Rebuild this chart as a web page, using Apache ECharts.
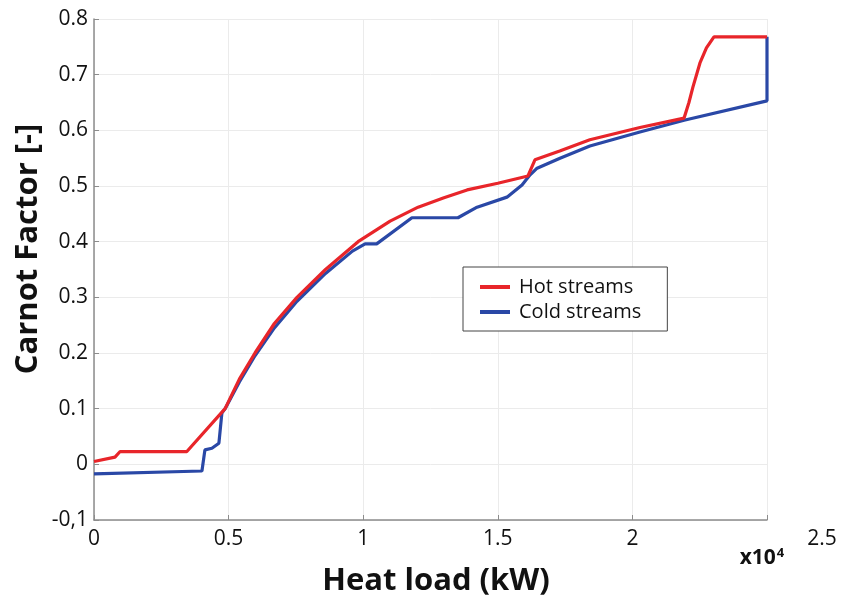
<!DOCTYPE html>
<html>
<head>
<meta charset="utf-8">
<script src="https://cdn.jsdelivr.net/npm/echarts@6/dist/echarts.min.js"></script>
<style>
html,body{margin:0;padding:0;background:#fff;}
#chart{width:843px;height:602px;}
</style>
</head>
<body>
<div id="chart"></div>
<script>
// Heat load in kW, Carnot factor [-]
const hotX = [0, 780, 970, 3450, 4870, 5400, 5980, 6700, 7540, 8600, 9810, 11000, 12040, 13000, 13860, 15000, 16120, 16380, 17300, 18420, 20280, 21920, 22100, 22250, 22510, 22750, 23030, 25000];
const hotY = [0.005, 0.013, 0.023, 0.023, 0.100, 0.153, 0.200, 0.253, 0.300, 0.350, 0.400, 0.437, 0.462, 0.479, 0.493, 0.505, 0.518, 0.547, 0.563, 0.583, 0.605, 0.622, 0.650, 0.678, 0.721, 0.748, 0.768, 0.768];
const coldX = [0, 4010, 4120, 4380, 4640, 4750, 4870, 5400, 5980, 6700, 7540, 8600, 9600, 10070, 10500, 11810, 13520, 14230, 15340, 15900, 16200, 16460, 17310, 18420, 20280, 21920, 25000, 25000];
const coldY = [-0.017, -0.012, 0.026, 0.029, 0.038, 0.092, 0.100, 0.148, 0.195, 0.245, 0.293, 0.343, 0.383, 0.396, 0.396, 0.443, 0.443, 0.462, 0.480, 0.502, 0.520, 0.532, 0.550, 0.572, 0.597, 0.618, 0.653, 0.768];
const seriesNames = ['Hot streams', 'Cold streams'];
const xTickLabels = {0: '0', 5000: '0.5', 10000: '1', 15000: '1.5', 20000: '2', 25000: '2.5'};
const yTickLabels = {'-0.1': '-0,1', '0': '0', '0.1': '0.1', '0.2': '0.2', '0.3': '0.3', '0.4': '0.4', '0.5': '0.5', '0.6': '0.6', '0.7': '0.7', '0.8': '0.8'};
const xTitle = 'Heat load (kW)';
const yTitle = 'Carnot Factor [-]';

const FONT = 'Open Sans';
const zip = (xs, ys) => xs.map((x, i) => [x, ys[i]]);

const chart = echarts.init(document.getElementById('chart'), null, {renderer: 'canvas'});
chart.setOption({
  animation: false,
  backgroundColor: '#ffffff',
  grid: {left: 94, top: 19, width: 673, height: 501, containLabel: false},
  xAxis: {
    type: 'value', min: 0, max: 25000, interval: 5000,
    axisLine: {show: true, onZero: false, lineStyle: {color: '#8c8c8c', width: 1.5}},
    axisTick: {show: true, inside: true, length: 5, lineStyle: {color: '#8c8c8c'}},
    splitLine: {show: true, lineStyle: {color: '#ebebeb', width: 1}},
    axisLabel: {
      margin: 9, fontSize: 21, color: '#111', fontFamily: FONT,
      formatter: v => v === 25000 ? '{far|' + xTickLabels[v] + '}' : (xTickLabels[v] !== undefined ? xTickLabels[v] : ''),
      rich: {far: {fontSize: 21, color: '#111', fontFamily: FONT, padding: [0, 0, 0, 110]}}
    }
  },
  yAxis: {
    type: 'value', min: -0.1, max: 0.8, interval: 0.1,
    axisLine: {show: true, onZero: false, lineStyle: {color: '#8c8c8c', width: 1.5}},
    axisTick: {show: true, inside: true, length: 5, lineStyle: {color: '#8c8c8c'}},
    splitLine: {show: true, lineStyle: {color: '#ebebeb', width: 1}},
    axisLabel: {
      margin: 6, fontSize: 21, color: '#111', fontFamily: FONT,
      formatter: v => { const k = String(Math.round(v * 10) / 10); return yTickLabels[k] !== undefined ? yTickLabels[k] : k; }
    }
  },
  legend: {
    orient: 'vertical', left: 463, top: 267,
    data: [seriesNames[0], seriesNames[1]],
    icon: 'rect', itemWidth: 30, itemHeight: 4, itemGap: 5,
    padding: [10, 26, 9, 17],
    borderColor: '#444', borderWidth: 1, backgroundColor: '#fff',
    textStyle: {fontSize: 20, lineHeight: 20, color: '#111', fontFamily: FONT, padding: [0, 0, 0, 4]}
  },
  graphic: [
    {type: 'text', x: 436, y: 581, style: {text: xTitle, font: 'bold 31px "Open Sans"', fill: '#111', textAlign: 'center', textVerticalAlign: 'middle'}},
    {type: 'text', x: 28, y: 249, rotation: Math.PI / 2, style: {text: yTitle, font: 'bold 31px "Open Sans"', fill: '#111', textAlign: 'center', textVerticalAlign: 'middle'}},
    {type: 'text', x: 762, y: 558, style: {text: '{b|x10}{s|4}', rich: {b: {font: 'bold 21px "Open Sans"', fill: '#111'}, s: {font: 'bold 13px "Open Sans"', fill: '#111', verticalAlign: 'top', padding: [0, 0, 10, 1]}}, textAlign: 'center', textVerticalAlign: 'middle'}}
  ],
  series: [
    {name: seriesNames[1], type: 'line', data: zip(coldX, coldY), showSymbol: false, symbol: 'none', color: '#2a48a6', lineStyle: {width: 3.2, color: '#2a48a6'}, z: 2},
    {name: seriesNames[0], type: 'line', data: zip(hotX, hotY), showSymbol: false, symbol: 'none', color: '#e8252a', lineStyle: {width: 3.2, color: '#e8252a'}, z: 3}
  ]
});
</script>
</body>
</html>
